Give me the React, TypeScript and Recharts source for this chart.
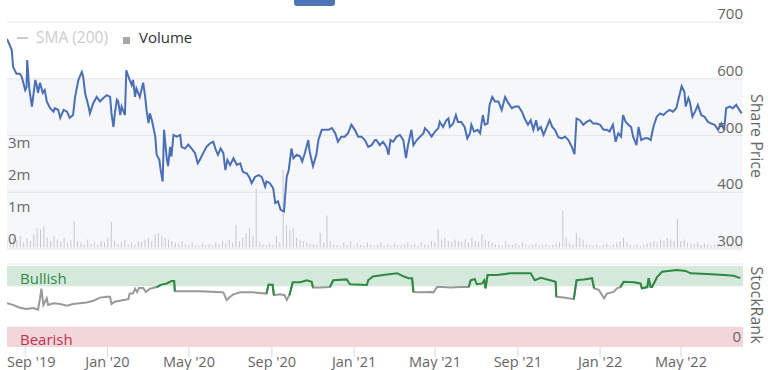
import {
  Bar,
  CartesianGrid,
  ComposedChart,
  Line,
  LineChart,
  ReferenceArea,
  ReferenceLine,
  XAxis,
  YAxis,
} from 'recharts';

const FONT = '"Open Sans", "DejaVu Sans", sans-serif';
const DAY = 86400000;
const START = Date.UTC(2019, 7, 5);
const END = Date.UTC(2022, 7, 1);
const PLOT_LEFT = 7;
const PLOT_RIGHT = 743;
const MARGIN_X = { left: PLOT_LEFT, right: 768 - PLOT_RIGHT };
const BULLISH = 75;
const VOLUME_STEP = 5; // days between volume bars

// days since START
const priceDays = [
  0, 7, 9, 14, 19, 22, 27, 29, 30, 33,
  37, 42, 44, 46, 49, 53, 56, 59, 64, 69,
  71, 76, 79, 84, 89, 93, 98, 101, 106, 111,
  113, 116, 121, 123, 128, 133, 138, 143, 148, 153,
  155, 158, 160, 163, 165, 168, 170, 175, 177, 180,
  185, 187, 190, 192, 197, 202, 205, 207, 210, 212,
  215, 220, 222, 226, 228, 231, 233, 237, 239, 242,
  244, 247, 252, 257, 259, 264, 269, 274, 279, 283,
  286, 291, 296, 301, 306, 310, 313, 317, 321, 324,
  327, 331, 336, 341, 346, 350, 356, 360, 363, 368,
  373, 378, 383, 385, 390, 395, 398, 402, 406, 411,
  413, 415, 418, 422, 425, 430, 435, 438, 442, 447,
  449, 454, 459, 462, 467, 472, 477, 482, 487, 491,
  496, 501, 506, 511, 516, 521, 526, 531, 536, 541,
  546, 548, 553, 558, 563, 566, 569, 573, 578, 583,
  588, 592, 595, 600, 603, 608, 613, 618, 620, 625,
  630, 635, 640, 642, 647, 652, 655, 657, 662, 666,
  669, 674, 679, 683, 687, 689, 693, 698, 702, 706,
  709, 713, 716, 720, 724, 729, 734, 739, 744, 749,
  754, 759, 764, 768, 773, 777, 781, 785, 788, 792,
  796, 801, 805, 809, 813, 818, 823, 828, 833, 838,
  842, 845, 850, 855, 860, 865, 870, 875, 880, 885,
  890, 894, 899, 903, 907, 911, 914, 918, 922, 926,
  929, 934, 937, 941, 946, 951, 955, 959, 964, 969,
  974, 979, 983, 988, 993, 997, 1001, 1005, 1007, 1011,
  1013, 1017, 1021, 1025, 1030, 1035, 1040, 1045, 1050, 1055,
  1060, 1064, 1067, 1072, 1077, 1082, 1085, 1090,
];

const priceValues = [
  670, 651, 621, 609, 609, 603, 580, 585, 633, 583,
  551, 598, 589, 575, 593, 575, 580, 560, 548, 542,
  548, 545, 531, 545, 542, 531, 536, 568, 598, 612,
  604, 574, 551, 539, 557, 568, 560, 566, 571, 568,
  539, 515, 539, 563, 560, 536, 551, 536, 615, 604,
  589, 598, 568, 583, 568, 593, 568, 545, 522, 539,
  527, 498, 466, 457, 439, 419, 510, 460, 446, 480,
  463, 501, 498, 501, 480, 477, 484, 477, 469, 451,
  457, 469, 480, 486, 489, 474, 466, 477, 469, 439,
  457, 448, 460, 448, 451, 436, 433, 425, 416, 427,
  430, 427, 410, 419, 416, 407, 381, 384, 369, 366,
  398, 427, 439, 477, 460, 466, 463, 454, 469, 492,
  472, 446, 466, 492, 510, 510, 510, 513, 504, 489,
  498, 498, 504, 519, 510, 498, 498, 492, 480, 483,
  492, 492, 483, 489, 480, 466, 492, 489, 498, 501,
  492, 460, 483, 510, 483, 492, 498, 504, 513, 507,
  498, 507, 513, 524, 515, 527, 530, 515, 521, 536,
  524, 524, 515, 495, 504, 519, 507, 510, 504, 536,
  519, 521, 554, 568, 560, 560, 545, 568, 557, 548,
  551, 551, 542, 530, 519, 527, 510, 527, 510, 515,
  501, 515, 527, 515, 510, 497, 495, 498, 492, 480,
  467, 530, 527, 519, 524, 527, 521, 521, 519, 510,
  510, 507, 519, 489, 504, 498, 536, 524, 519, 515,
  498, 483, 515, 492, 495, 495, 492, 515, 533, 539,
  536, 542, 545, 542, 548, 568, 587, 577, 551, 566,
  560, 533, 542, 554, 536, 533, 524, 521, 519, 510,
  521, 510, 548, 551, 548, 554, 548, 539,
];

// thousands of shares, one bar every VOLUME_STEP days
const volumeValues = [
  250, 180, 300, 220, 350, 150, 280, 200, 400, 600,
  550, 650, 300, 200, 350, 250, 180, 300, 150, 220,
  800, 200, 150, 100, 250, 120, 180, 90, 200, 150,
  300, 800, 200, 120, 180, 250, 100, 150, 90, 200,
  180, 250, 300, 200, 400, 450, 350, 300, 250, 200,
  150, 120, 200, 100, 80, 150, 90, 60, 120, 80,
  100, 70, 150, 90, 200, 120, 250, 150, 700, 200,
  300, 450, 600, 350, 1830, 150, 100, 80, 120, 90,
  350, 150, 2420, 700, 550, 600, 300, 250, 200, 150,
  120, 100, 80, 450, 150, 1000, 200, 100, 80, 60,
  150, 80, 200, 60, 120, 80, 50, 150, 90, 60,
  80, 150, 60, 100, 50, 120, 80, 60, 100, 150,
  80, 120, 60, 150, 100, 80, 200, 150, 570, 250,
  300, 200, 150, 250, 200, 180, 250, 150, 300, 200,
  150, 400, 250, 200, 150, 100, 80, 60, 200, 100,
  80, 120, 60, 150, 100, 60, 80, 120, 60, 80,
  100, 60, 80, 120, 150, 1140, 300, 120, 80, 450,
  300, 250, 100, 80, 60, 100, 50, 80, 120, 60,
  100, 150, 200, 300, 150, 80, 60, 100, 50, 80,
  120, 150, 200, 150, 250, 200, 300, 250, 200, 890,
  200, 250, 150, 120, 100, 150, 80, 120, 100, 60,
  80, 100, 60, 150, 80, 120, 60, 100, 80,
];

const rankDays = [
  0, 9, 19, 29, 39, 46, 49, 51, 54, 59,
  61, 69, 79, 89, 98, 108, 118, 128, 138, 148,
  153, 155, 160, 173, 180, 182, 187, 190, 193, 196,
  202, 206, 212, 222, 229, 237, 244, 248, 249, 262,
  286, 311, 321, 326, 331, 336, 346, 365, 385, 388,
  394, 396, 405, 412, 415, 419, 424, 435, 445, 452,
  454, 464, 479, 484, 504, 509, 534, 536, 543, 558,
  579, 589, 596, 601, 603, 614, 628, 633, 638, 646,
  658, 673, 685, 688, 694, 697, 705, 708, 710, 713,
  727, 747, 777, 783, 792, 806, 814, 815, 826, 841,
  845, 856, 868, 871, 878, 886, 890, 900, 905, 910,
  915, 930, 940, 942, 950, 952, 955, 957, 965, 972,
  994, 1007, 1014, 1039, 1064, 1078, 1088,
];

const rankValues = [
  54, 52, 48.5, 47, 48, 46, 60, 72, 52, 60,
  52, 54, 53, 51, 53, 54, 55, 57, 61, 62,
  62, 53, 56, 58, 59, 66, 66, 72, 68, 73,
  73, 68, 72, 74, 77, 78.5, 81.5, 81.5, 69, 69,
  69, 68, 67.5, 58, 62, 65, 67.5, 67.5, 66, 77,
  77, 64, 65, 64, 58, 64, 80, 80, 82.5, 80.5,
  73.5, 73.5, 74, 82.5, 83.5, 77.5, 76.5, 82.5, 87, 89,
  91, 87, 85, 85, 68, 67.5, 68, 67.5, 74, 74,
  73.5, 74, 74, 82.5, 84, 77.5, 78.5, 82.5, 72.5, 89,
  89, 91, 91, 82.5, 85.5, 82.5, 80.5, 62, 61, 59,
  82.5, 83.5, 85, 72.5, 70.5, 60, 66, 68, 72.5, 74,
  80.5, 80, 78.5, 72.5, 74, 85, 74, 74, 87, 93,
  95, 94, 91, 90, 89, 88, 85,
];

const priceTicks = [300, 400, 500, 600, 700];
const volumeTicks = [0, 1000000, 2000000, 3000000];
const volumeTickLabels = ['0', '1m', '2m', '3m'];
const monthTicks = [
  [2019, 8], [2020, 0], [2020, 4], [2020, 8], [2021, 0],
  [2021, 4], [2021, 8], [2022, 0], [2022, 4],
];
const MONTHS = ['Jan', 'Feb', 'Mar', 'Apr', 'May', 'Jun', 'Jul', 'Aug', 'Sep', 'Oct', 'Nov', 'Dec'];

const toTime = (day: number) => START + day * DAY;

const priceData = priceDays.map((d, i) => ({ t: toTime(d), price: priceValues[i] }));
const volumeData = volumeValues.map((v, i) => ({ t: toTime(i * VOLUME_STEP), volume: v * 1000 }));

const isHigh = (n?: number) => n !== undefined && n >= BULLISH;
const isLow = (n?: number) => n !== undefined && n < BULLISH;
const rankData = rankDays.map((d, i) => {
  const v = rankValues[i];
  const prev = rankValues[i - 1];
  const next = rankValues[i + 1];
  return {
    t: toTime(d),
    bull: isHigh(v) || isHigh(prev) || isHigh(next) ? v : null,
    rest: isLow(v) || isLow(prev) || isLow(next) ? v : null,
  };
});
const xTicks = monthTicks.map(([y, m]) => Date.UTC(y, m, 1));

const PriceTick = ({ y, payload }: any) => (
  <text x={PLOT_RIGHT} y={y - 3} textAnchor="end" fill="#666" fontSize={15} fontFamily={FONT}>
    {payload.value}
  </text>
);

const VolumeTick = ({ y, payload }: any) => (
  <text x={PLOT_LEFT + 1} y={y - 3} textAnchor="start" fill="#666" fontSize={15} fontFamily={FONT}>
    {volumeTickLabels[volumeTicks.indexOf(payload.value)]}
  </text>
);

const RankTick = ({ y, payload }: any) => (
  <text x={PLOT_RIGHT - 2} y={y - 5} textAnchor="end" fill="#666" fontSize={15} fontFamily={FONT}>
    {payload.value}
  </text>
);

const DateTick = ({ x, y, payload }: any) => {
  const d = new Date(payload.value);
  const label = `${MONTHS[d.getUTCMonth()]} '${String(d.getUTCFullYear()).slice(2)}`;
  const first = payload.value === xTicks[0];
  return (
    <text
      x={first ? PLOT_LEFT : x}
      y={y}
      dy={8}
      textAnchor={first ? 'start' : 'middle'}
      fill="#666"
      fontSize={14.5}
      fontFamily={FONT}
    >
      {label}
    </text>
  );
};

const layer = (top: number) => ({ position: 'absolute' as const, left: 0, top });

export default function App() {
  return (
    <div
      style={{
        position: 'absolute',
        left: 0,
        top: 0,
        width: 768,
        height: 370,
        background: '#fff',
        overflow: 'hidden',
      }}
    >
      {/* volume bars + price panel background */}
      <div style={layer(0)}>
        <ComposedChart width={768} height={260} data={volumeData} margin={{ top: 22, bottom: 11, ...MARGIN_X }}>
          <XAxis dataKey="t" type="number" domain={[START, END]} hide allowDataOverflow />
          <YAxis yAxisId="price" hide domain={[300, 700]} allowDataOverflow />
          <YAxis
            yAxisId="vol"
            orientation="left"
            mirror
            domain={[-50000, 7040000]}
            ticks={volumeTicks}
            interval={0}
            axisLine={false}
            tickLine={false}
            tick={VolumeTick}
            allowDataOverflow
          />
          <ReferenceArea yAxisId="price" y1={300} y2={600} fill="#f6f7fb" fillOpacity={1} stroke="none" />
          <Bar yAxisId="vol" dataKey="volume" fill="#c6c6cb" barSize={1} isAnimationActive={false} />
        </ComposedChart>
      </div>

      {/* share price */}
      <div style={layer(0)}>
        <LineChart width={768} height={260} data={priceData} margin={{ top: 22, bottom: 11, ...MARGIN_X }}>
          <CartesianGrid yAxisId="price" vertical={false} stroke="#e6e6e6" />
          <XAxis dataKey="t" type="number" domain={[START, END]} hide allowDataOverflow />
          <YAxis
            yAxisId="price"
            orientation="right"
            mirror
            domain={[300, 700]}
            ticks={priceTicks}
            interval={0}
            axisLine={false}
            tickLine={false}
            tick={PriceTick}
            allowDataOverflow
          />
          <Line
            yAxisId="price"
            dataKey="price"
            stroke="#4a6fb5"
            strokeWidth={2}
            dot={false}
            isAnimationActive={false}
          />
        </LineChart>
      </div>

      {/* StockRank */}
      <div style={layer(255)}>
        <LineChart width={768} height={115} data={rankData} margin={{ top: 9, bottom: 0, ...MARGIN_X }}>
          <XAxis
            dataKey="t"
            type="number"
            domain={[START, END]}
            ticks={xTicks}
            interval={0}
            height={23}
            axisLine={false}
            tickSize={10}
            tickMargin={2}
            tickLine={{ stroke: '#d8d8d8' }}
            tick={DateTick}
            allowDataOverflow
          />
          <YAxis
            orientation="right"
            mirror
            domain={[0, 102.5]}
            ticks={[0]}
            axisLine={false}
            tickLine={false}
            tick={RankTick}
            allowDataOverflow
          />
          <ReferenceArea y1={BULLISH} y2={100} fill="#d4e9dc" fillOpacity={1} stroke="none" />
          <ReferenceArea y1={0} y2={25} fill="#f3d6da" fillOpacity={1} stroke="none" />
          <ReferenceLine y={102.5} stroke="#e6e6e6" />
          <Line dataKey="rest" stroke="#999999" strokeWidth={2} dot={false} isAnimationActive={false} />
          <Line dataKey="bull" stroke="#2e8a40" strokeWidth={2} dot={false} isAnimationActive={false} />
        </LineChart>
      </div>

      {/* legend, titles and band labels */}
      <svg width={768} height={370} style={{ position: 'absolute', left: 0, top: 0, pointerEvents: 'none' }} fontFamily={FONT}>
        <rect x={294} y={-5} width={41} height={11} rx={3} fill="#4d74b8" />
        <line x1={17} x2={28} y1={38} y2={38} stroke="#cccccc" strokeWidth={2} />
        <text x={36} y={43} fontSize={15.5} fill="#cccccc">SMA (200)</text>
        <rect x={123} y={37} width={7} height={7} fill="#a8a8a8" />
        <text x={139} y={43} fontSize={15} fill="#333333">Volume</text>
        <text transform="translate(757,136) rotate(90)" textAnchor="middle" dominantBaseline="central" fontSize={16} fill="#666">
          Share Price
        </text>
        <text transform="translate(757,305) rotate(90)" textAnchor="middle" dominantBaseline="central" fontSize={16} fill="#666">
          StockRank
        </text>
        <text x={20} y={284} fontSize={15} fill="#2f8a45">Bullish</text>
        <text x={20} y={345} fontSize={15} fill="#c2334f">Bearish</text>
      </svg>
    </div>
  );
}
